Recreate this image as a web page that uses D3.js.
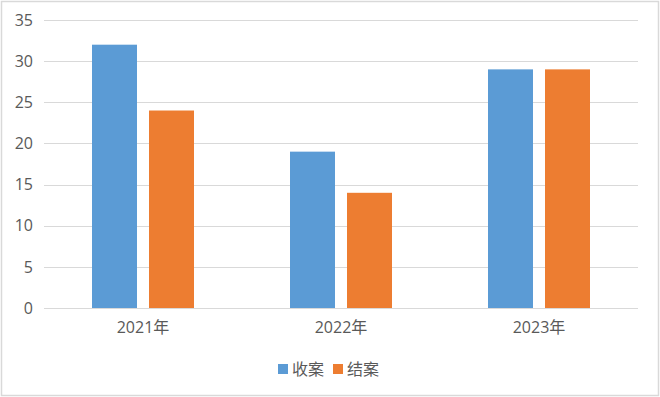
<!DOCTYPE html>
<html>
<head>
<meta charset="utf-8">
<script src="https://cdn.jsdelivr.net/npm/d3@7"></script>
<style>
  body { margin: 0; background: #fff; }
  text { font-family: "Open Sans", "Noto Sans CJK SC", sans-serif; }
</style>
</head>
<body>
<div id="chart"></div>
<script>
// values
var years = ["2021年", "2022年", "2023年"];
var seriesNames = ["收案", "结案"];
var receivedCases = [32, 19, 29];
var closedCases = [24, 14, 29];
var yTicks = [0, 5, 10, 15, 20, 25, 30, 35];
var colors = ["#5b9bd5", "#ed7d31"];

var W = 660, H = 397;
var margin = {top: 20, right: 22, bottom: 89, left: 44};
var width = W - margin.left - margin.right,
    height = H - margin.top - margin.bottom;

var svg = d3.select("#chart").append("svg")
  .attr("width", W)
  .attr("height", H);

// outer chart border
svg.append("rect")
  .attr("x", 1.5).attr("y", 1.5)
  .attr("width", W - 3).attr("height", H - 3)
  .attr("fill", "#fff")
  .attr("stroke", "#d9d9d9")
  .attr("stroke-width", 1.5);

var g = svg.append("g")
  .attr("transform", "translate(" + margin.left + "," + margin.top + ")");

var x = d3.scaleBand().domain(years).range([0, width]);
var y = d3.scaleLinear().domain([0, 35]).range([height, 0]);

// bars: 45px wide, 12px gap inside each group
var barW = 45, gap = 12;
var x1 = d3.scaleOrdinal().domain(seriesNames)
  .range([-(barW + gap / 2), gap / 2]);

// gridlines
g.selectAll(".grid")
  .data(yTicks)
  .enter().append("line")
  .attr("x1", 0).attr("x2", width)
  .attr("y1", function(d){ return Math.round(y(d)) + 0.5; })
  .attr("y2", function(d){ return Math.round(y(d)) + 0.5; })
  .attr("stroke", "#d9d9d9")
  .attr("stroke-width", 1);

// y tick labels
g.selectAll(".ylab")
  .data(yTicks)
  .enter().append("text")
  .attr("x", -11)
  .attr("y", function(d){ return y(d); })
  .attr("dy", "0.36em")
  .attr("text-anchor", "end")
  .attr("font-size", 16)
  .attr("fill", "#595959")
  .text(function(d){ return d; });

var rows = years.map(function(yr, i){
  return {year: yr, values: [receivedCases[i], closedCases[i]]};
});

var groups = g.selectAll(".grp")
  .data(rows)
  .enter().append("g")
  .attr("transform", function(d){ return "translate(" + (x(d.year) + x.bandwidth() / 2) + ",0)"; });

groups.selectAll("rect")
  .data(function(d){ return d.values.map(function(v, j){ return {name: seriesNames[j], value: v, k: j}; }); })
  .enter().append("rect")
  .attr("x", function(d){ return x1(d.name); })
  .attr("width", barW)
  .attr("y", function(d){ return y(d.value); })
  .attr("height", function(d){ return height - y(d.value); })
  .attr("fill", function(d){ return colors[d.k]; });

// x category labels
g.selectAll(".xlab")
  .data(years)
  .enter().append("text")
  .attr("x", function(d){ return x(d) + x.bandwidth() / 2; })
  .attr("y", height + 25)
  .attr("text-anchor", "middle")
  .attr("font-size", 16)
  .attr("fill", "#595959")
  .text(function(d){ return d; });

// legend
var legend = svg.append("g").attr("transform", "translate(278,369)");
var legendX = [0, 55];
seriesNames.forEach(function(name, i){
  legend.append("rect")
    .attr("x", legendX[i]).attr("y", -5)
    .attr("width", 10).attr("height", 10)
    .attr("fill", colors[i]);
  legend.append("text")
    .attr("x", legendX[i] + 14)
    .attr("y", 0)
    .attr("dy", "0.36em")
    .attr("font-size", 16)
    .attr("fill", "#595959")
    .style("font-family", "'Noto Sans CJK SC', sans-serif")
    .text(name);
});
</script>
</body>
</html>
